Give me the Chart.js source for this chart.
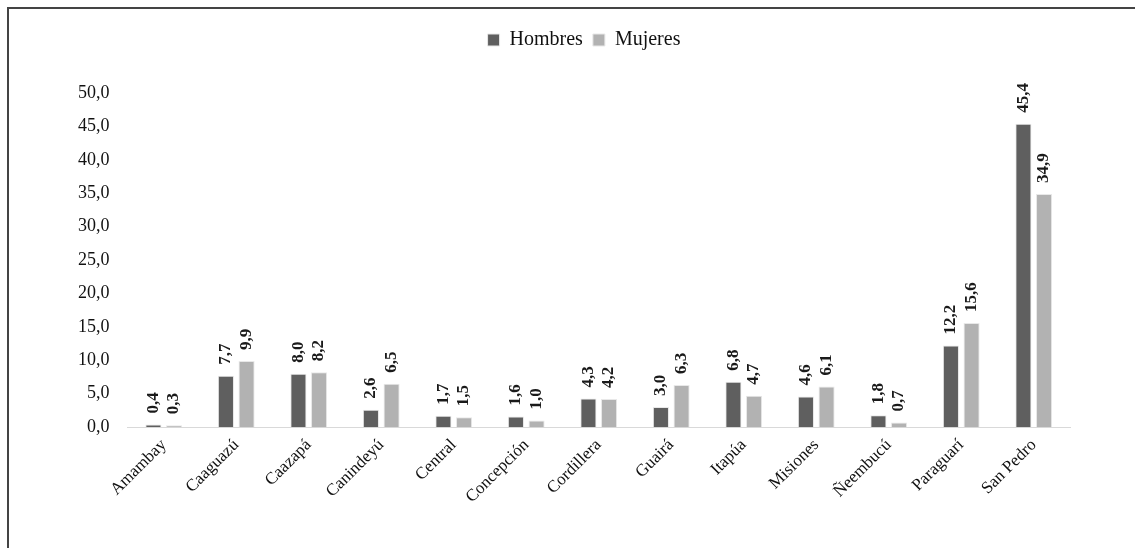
<!DOCTYPE html>
<html>
<head>
<meta charset="utf-8">
<script src="https://cdn.jsdelivr.net/npm/chart.js@4"></script>
<style>
  html, body { margin: 0; padding: 0; background: #fff; overflow: hidden; }
  #frame {
    position: absolute; left: 7px; top: 7px;
    width: 1140px; height: 560px;
    border: 2px solid #444;
  }
  #wrap { position: absolute; left: 0; top: 0; width: 1135px; height: 548px; }
</style>
</head>
<body>
<div id="frame"></div>
<div id="wrap"><canvas id="chart"></canvas></div>
<script>
const departamentos = [
  "Amambay", "Caaguazú", "Caazapá", "Canindeyú", "Central", "Concepción",
  "Cordillera", "Guairá", "Itapúa", "Misiones", "Ñeembucú", "Paraguarí", "San Pedro"
];
const hombres = [0.4, 7.7, 8.0, 2.6, 1.7, 1.6, 4.3, 3.0, 6.8, 4.6, 1.8, 12.2, 45.4];
const mujeres = [0.3, 9.9, 8.2, 6.5, 1.5, 1.0, 4.2, 6.3, 4.7, 6.1, 0.7, 15.6, 34.9];

const serif = "'Liberation Serif', 'DejaVu Serif', serif";

const fmt = (v) => v.toFixed(1).replace(".", ",");

// values drawn vertically above each bar
const barLabels = {
  id: "barLabels",
  afterDatasetsDraw(chart) {
    const ctx = chart.ctx;
    ctx.save();
    ctx.font = "bold 17px " + serif;
    ctx.fillStyle = "#1a1a1a";
    ctx.textAlign = "left";
    ctx.textBaseline = "middle";
    chart.data.datasets.forEach((ds, i) => {
      chart.getDatasetMeta(i).data.forEach((bar, j) => {
        ctx.save();
        ctx.translate(bar.x, bar.y - 11);
        ctx.rotate(-Math.PI / 2);
        ctx.fillText(fmt(ds.data[j]), 0, 0);
        ctx.restore();
      });
    });
    ctx.restore();
  }
};

// extra room under the legend, and nudge it a bit to the right
const legendSpace = {
  id: "legendSpace",
  beforeInit(chart) {
    const fit = chart.legend.fit;
    chart.legend.fit = function () {
      fit.bind(chart.legend)();
      this.height += 33;
    };
  },
  afterLayout(chart) {
    chart.legend.left += 19;
    chart.legend.right += 19;
  }
};

new Chart(document.getElementById("chart").getContext("2d"), {
  type: "bar",
  data: {
    labels: departamentos,
    datasets: [
      { label: "Hombres", data: hombres, backgroundColor: "#5f5f5f", borderColor: "#e8e8e8", borderWidth: 1 },
      { label: "Mujeres", data: mujeres, backgroundColor: "#b2b2b2", borderColor: "#e8e8e8", borderWidth: 1 }
    ]
  },
  options: {
    responsive: true,
    maintainAspectRatio: false,
    animation: false,
    categoryPercentage: 0.57,
    barPercentage: 0.78,
    layout: { padding: { left: 60, right: 65, top: 20, bottom: 33 } },
    plugins: {
      legend: {
        position: "top",
        labels: {
          font: { family: serif, size: 20 },
          color: "#111",
          boxWidth: 12,
          boxHeight: 12,
          padding: 10
        }
      },
      tooltip: { enabled: false }
    },
    scales: {
      x: {
        grid: { display: false, drawTicks: false },
        border: { color: "#d9d9d9", width: 1 },
        ticks: {
          font: { family: serif, size: 17 },
          color: "#111",
          maxRotation: 45,
          minRotation: 45,
          padding: 8
        }
      },
      y: {
        min: 0,
        max: 50,
        grid: { display: false, drawTicks: false },
        border: { display: false },
        ticks: {
          stepSize: 5,
          font: { family: serif, size: 18 },
          color: "#111",
          padding: 18,
          callback: (v) => fmt(v)
        }
      }
    }
  },
  plugins: [barLabels, legendSpace]
});
</script>
</body>
</html>
